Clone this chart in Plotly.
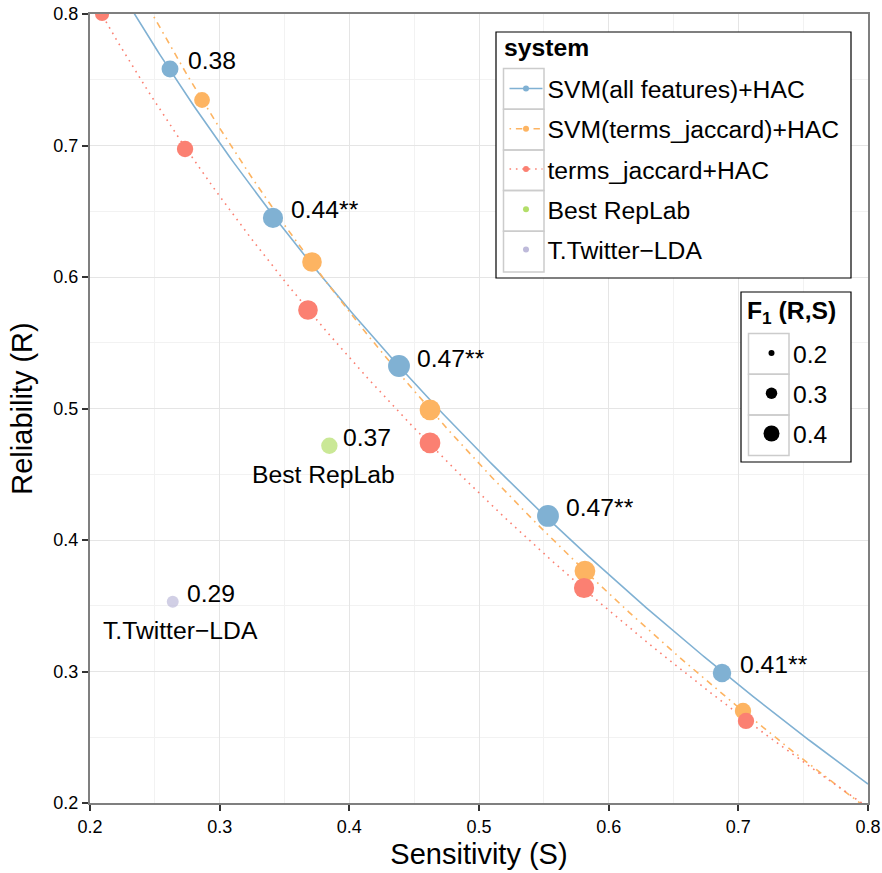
import numpy as np
import plotly.graph_objects as go

# Sensitivity (S) / Reliability (R) for each clustering threshold, per system
svm_all_s = [0.2617, 0.3411, 0.4383, 0.5532, 0.6874]
svm_all_r = [0.7582, 0.6449, 0.5323, 0.4183, 0.2989]
svm_all_f1 = [0.38, 0.44, 0.47, 0.47, 0.41]
svm_all_labels = ["0.38", "0.44**", "0.47**", "0.47**", "0.41**"]

svm_terms_s = [0.2864, 0.3712, 0.4622, 0.5817, 0.7036]
svm_terms_r = [0.7346, 0.6114, 0.4989, 0.3764, 0.2700]
svm_terms_f1 = [0.36, 0.43, 0.45, 0.45, 0.37]

terms_s = [0.2093, 0.2733, 0.3681, 0.4622, 0.5810, 0.7059]
terms_r = [0.8000, 0.6973, 0.5749, 0.4738, 0.3635, 0.2624]
terms_f1 = [0.33, 0.37, 0.43, 0.45, 0.44, 0.37]

best_s = [0.3846]
best_r = [0.4717]
best_f1 = [0.37]
best_labels = ["0.37"]

lda_s = [0.2638]
lda_r = [0.3531]
lda_f1 = [0.29]
lda_labels = ["0.29"]

size_legend_values = [0.2, 0.3, 0.4]
axis_ticks = [0.2, 0.3, 0.4, 0.5, 0.6, 0.7, 0.8]

BLUE, ORANGE, RED, GREEN, PURPLE = "#80B1D3", "#FDB462", "#FB8072", "#B3DE69", "#BEBADA"
FONT = "Liberation Sans, Arial, Helvetica, sans-serif"
TXT = 24.7

# plot area in pixels (for placing legend boxes)
L, R, T, B = 90, 868, 14, 803
W, H = 882, 873


def px_x(p):
    return (p - L) / (R - L)


def px_y(p):
    return (B - p) / (B - T)


def marker_size(f1):
    return [7 + 55 * (v - 0.2) for v in f1]


def fitted(s, r):
    # quadratic trend in log(S), drawn across the full axis range
    coef = np.polyfit(np.log(s), r, 2)
    xs = np.linspace(0.2, 0.8, 301)
    return xs, np.polyval(coef, np.log(xs))


fig = go.Figure()

series = [
    ("SVM(all features)+HAC", svm_all_s, svm_all_r, svm_all_f1, BLUE, "solid"),
    ("SVM(terms_jaccard)+HAC", svm_terms_s, svm_terms_r, svm_terms_f1, ORANGE,
     "1.6px,4.8px,6.4px,4.8px"),
    ("terms_jaccard+HAC", terms_s, terms_r, terms_f1, RED, "1.6px,4.8px"),
]

for name, s, r, f1, color, dash in series:
    xs, ys = fitted(s, r)
    fig.add_trace(go.Scatter(x=xs, y=ys, mode="lines", showlegend=False,
                             line=dict(color=color, width=1.6, dash=dash),
                             hoverinfo="skip"))

for name, s, r, f1, color, dash in series:
    fig.add_trace(go.Scatter(x=s, y=r, mode="markers", showlegend=False, name=name,
                             marker=dict(color=color, size=marker_size(f1),
                                         line=dict(width=0), opacity=1)))

for name, s, r, f1, color in [("Best RepLab", best_s, best_r, best_f1, GREEN),
                              ("T.Twitter\u2212LDA", lda_s, lda_r, lda_f1, PURPLE)]:
    fig.add_trace(go.Scatter(x=s, y=r, mode="markers", showlegend=False, name=name,
                             marker=dict(color=color, size=marker_size(f1), line=dict(width=0))))

# legend entries: system
for i, (name, s, r, f1, color, dash) in enumerate(series):
    fig.add_trace(go.Scatter(x=[None], y=[None], mode="lines+markers", name=name,
                             legend="legend", legendgroup="g%d" % i,
                             line=dict(color=color, width=1.6, dash=dash),
                             marker=dict(color=color, size=6)))
for i, (name, color) in enumerate([("Best RepLab", GREEN), ("T.Twitter\u2212LDA", PURPLE)]):
    fig.add_trace(go.Scatter(x=[None], y=[None], mode="markers", name=name,
                             legend="legend", legendgroup="g%d" % (i + 3),
                             marker=dict(color=color, size=6)))

# legend entries: F1 size scale
for i, (v, sz) in enumerate(zip(size_legend_values, marker_size(size_legend_values))):
    fig.add_trace(go.Scatter(x=[None], y=[None], mode="markers", name="%.1f" % v,
                             legend="legend2", legendgroup="s%d" % i,
                             marker=dict(color="black", size=sz - 1)))

# value labels
annotations = []
for s, r, t in zip(svm_all_s, svm_all_r, svm_all_labels):
    annotations.append(dict(x=s, y=r, text=t, xanchor="left", yanchor="middle",
                            xshift=16, yshift=8, showarrow=False,
                            font=dict(size=TXT, color="black")))
for s, r, t, name, dx in [(best_s[0], best_r[0], best_labels[0], "Best RepLab", -6),
                          (lda_s[0], lda_r[0], lda_labels[0], "T.Twitter\u2212LDA", 8)]:
    annotations.append(dict(x=s, y=r, text=t, xanchor="left", yanchor="middle",
                            xshift=12, yshift=8, showarrow=False,
                            font=dict(size=TXT, color="black")))
    annotations.append(dict(x=s, y=r, text=name, xanchor="center", yanchor="middle",
                            xshift=dx, yshift=-29, showarrow=False,
                            font=dict(size=TXT, color="black")))

# legend titles
annotations.append(dict(xref="paper", yref="paper", x=px_x(502), y=px_y(48),
                        xanchor="left", yanchor="middle", showarrow=False,
                        text="<b>system</b>", font=dict(size=TXT, color="black")))
annotations.append(dict(xref="paper", yref="paper", x=px_x(745), y=px_y(312),
                        xanchor="left", yanchor="middle", showarrow=False,
                        text="<b>F<sub>1</sub> (R,S)</b>", font=dict(size=TXT, color="black")))

# legend frames and key boxes
shapes = []


def box(x0, y0, x1, y1, color, width, fill):
    shapes.append(dict(type="rect", xref="paper", yref="paper", layer="above",
                       x0=px_x(x0), x1=px_x(x1), y0=px_y(y1), y1=px_y(y0),
                       line=dict(color=color, width=width), fillcolor=fill))


box(496, 32, 851, 278, "black", 1.2, "white")
for k in range(5):
    box(503.5, 68.5 + 40.7 * k, 544, 68.5 + 40.7 * (k + 1), "#CCCCCC", 1.5, "rgba(0,0,0,0)")
box(741, 292, 851, 462, "black", 1.2, "white")
for k in range(3):
    box(748.5, 333.5 + 40.7 * k, 789, 333.5 + 40.7 * (k + 1), "#CCCCCC", 1.5, "rgba(0,0,0,0)")

axis_common = dict(
    range=[0.2, 0.8], tickvals=axis_ticks, ticktext=["%.1f" % v for v in axis_ticks],
    showgrid=True, gridcolor="#E5E5E5", gridwidth=1.2, zeroline=False, automargin=False,
    minor=dict(dtick=0.05, tick0=0.2, showgrid=True, gridcolor="#F2F2F2", gridwidth=1, ticks=""),
    showline=True, linecolor="#7F7F7F", linewidth=2, mirror=True,
    ticks="outside", ticklen=6, tickwidth=2, tickcolor="#333333",
    tickfont=dict(size=18, color="black", family=FONT),
)

fig.update_xaxes(**axis_common, title=dict(text="Sensitivity (S)", font=dict(size=29), standoff=8))
fig.update_yaxes(**axis_common, title=dict(text="Reliability (R)", font=dict(size=29), standoff=12))

fig.update_layout(
    width=W, height=H,
    margin=dict(l=L, r=W - R, t=T, b=H - B, autoexpand=False),
    plot_bgcolor="white", paper_bgcolor="white",
    font=dict(family=FONT, color="black"),
    shapes=shapes, annotations=annotations,
    legend=dict(x=px_x(504.5), y=px_y(66), xanchor="left", yanchor="top",
                bgcolor="rgba(0,0,0,0)", borderwidth=0, traceorder="grouped",
                tracegroupgap=5.1, itemwidth=33, font=dict(size=TXT)),
    legend2=dict(x=px_x(750), y=px_y(330.5), xanchor="left", yanchor="top",
                 bgcolor="rgba(0,0,0,0)", borderwidth=0, traceorder="grouped",
                 tracegroupgap=5.1, itemwidth=33, font=dict(size=TXT)),
)

fig.write_html("out.html")
